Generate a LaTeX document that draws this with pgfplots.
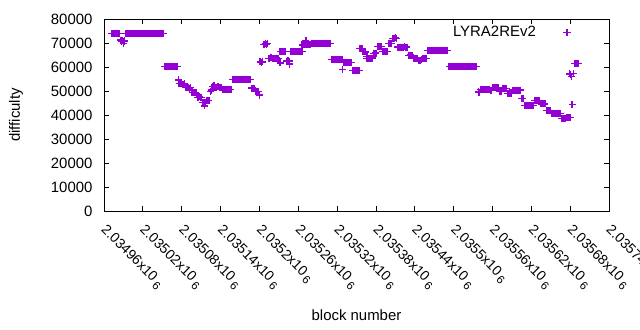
\documentclass[border=0pt]{standalone}
\usepackage{fontspec}
\setmainfont{Liberation Sans}
\usepackage{pgfplots}
\pgfplotsset{compat=1.18}
\usepackage{pgfplotstable}
\definecolor{gpviolet}{RGB}{148,0,211}
\newcommand{\gf}{\fontsize{15}{18}\selectfont}
\newcommand{\xf}{\fontsize{14}{17}\selectfont}
\newcommand{\tl}[1]{#1x10\,\raisebox{-0.45ex}{\fontsize{11.5}{14}\selectfont 6}}

\pgfplotstableread{
x y
12 74000
14 74000
16 74000
18 74000
20 74000
22 74000
24 74000
26 71200
27 70800
28 71000
30 69700
31 70600
32 71000
34 74000
36 74000
38 74000
40 74000
42 74000
44 74000
46 74000
48 74000
50 74000
52 74000
54 74000
56 74000
58 74000
60 74000
62 74000
64 74000
66 74000
68 74000
70 74000
72 74000
74 74000
76 74000
78 74000
80 74000
82 74000
84 74000
86 74000
88 74000
90 74000
92 74000
94 60300
96 60300
98 60300
100 60300
102 60300
104 60300
106 60300
108 60300
110 60300
112 60300
114 60300
115 54600
116 53000
118 53000
120 53200
122 52800
124 53000
126 51400
128 51400
130 51600
132 51200
134 51400
136 49300
138 49300
140 49500
142 49200
144 47400
146 47400
148 47600
150 47300
152 45100
154 45100
155 43800
156 45300
158 46000
160 46000
162 46000
164 49700
166 50400
168 52000
170 52500
172 51500
174 51500
176 51700
178 51400
180 51500
182 51500
184 50700
186 50700
188 50600
190 50700
192 50800
194 50700
196 50700
198 54900
200 54900
202 54900
204 54900
206 54900
208 54900
210 54900
212 54900
214 54900
216 54900
218 54900
220 54900
222 54900
224 54900
226 54900
228 51200
230 51200
232 51000
234 49700
236 49700
238 49800
240 48300
241 62100
243 62000
245 62100
247 69400
249 69600
251 69400
252 69800
254 63600
256 63600
258 63800
260 63500
262 63600
264 63600
266 63700
268 63500
270 63600
272 61700
272 66500
274 66400
276 66600
278 66500
280 66500
282 62500
284 62600
286 62500
287 61200
289 66400
291 66500
293 66500
295 66600
297 66400
299 66500
301 66500
303 66600
305 66500
307 66500
306 69200
308 69400
310 69200
312 71000
312 69300
314 69400
316 69200
318 69500
320 69900
322 69900
324 69900
326 69900
328 69900
330 69900
332 69900
334 69900
336 69900
338 69900
340 69900
342 69900
344 69900
346 69900
348 69900
350 69900
352 63200
354 63200
356 63200
358 63200
360 63200
362 63200
364 63200
366 63200
368 63200
368 59000
370 61800
372 61800
374 61800
376 61800
378 61800
380 61800
382 61800
384 58600
386 58600
388 58600
390 58600
392 58600
394 58600
395 67800
397 67800
399 67600
400 66400
402 66400
404 66300
406 64300
406 63600
408 63600
410 63600
412 63600
414 63700
416 65700
418 65700
420 65800
422 68500
424 68500
426 68400
428 68500
430 66500
432 66500
434 66400
436 66600
438 66500
440 69900
442 69900
444 69800
446 72000
448 72000
450 72100
452 71900
454 68300
456 68300
458 68200
460 68300
462 68300
464 68400
466 68200
468 68300
470 64900
472 64900
474 65000
476 64800
478 63600
480 63600
482 63700
484 63500
486 62900
488 62900
490 63000
492 63500
494 63500
496 63600
498 63500
500 67000
502 67000
504 67000
506 67000
508 67000
510 67000
512 67000
514 67000
516 67000
518 67000
520 67000
522 67000
524 67000
526 67000
528 67000
530 67000
533 60300
535 60300
537 60300
539 60300
541 60300
543 60300
545 60300
547 60300
549 60300
551 60300
553 60300
555 60300
557 60300
559 60300
561 60300
563 60300
565 60300
567 60300
569 60300
571 60300
573 60300
575 60300
578 49700
579 49300
581 50700
583 50700
585 50700
587 50700
589 50700
591 50700
593 50700
595 50700
597 50300
599 50300
601 51400
603 51400
605 51400
607 51400
609 51400
611 50000
613 50000
615 51100
617 51100
619 51100
621 51100
623 49000
625 49000
627 49000
629 49000
631 50400
633 50400
635 50400
637 50400
639 50400
641 50400
643 50400
645 47000
647 47000
649 43900
651 43900
653 43900
655 43900
657 43900
659 43900
661 43900
663 43900
665 46100
667 46100
669 46100
671 46100
673 46100
675 44600
677 44600
679 44600
681 44600
683 42000
685 42000
687 42000
689 42000
691 40700
693 40700
695 40700
697 40700
699 40700
701 40700
703 40700
705 40700
707 38500
709 38500
711 38500
713 38500
715 39000
717 39000
719 39000
721 39000
716 74300
719 57100
721 56800
722 55900
723 44400
725 57200
727 61500
729 61500
731 61600
733 61500
}\datatable

\begin{document}
\begin{tikzpicture}
\begin{axis}[
  at={(0,0)}, anchor=south west,
  scale only axis, width=505bp, height=192bp,
  xmin=0, xmax=780, ymin=0, ymax=80000,
  xtick={0,60,...,780},
  xticklabels={\tl{2.03496},\tl{2.03502},\tl{2.03508},\tl{2.03514},\tl{2.0352},\tl{2.03526},\tl{2.03532},\tl{2.03538},\tl{2.03544},\tl{2.0355},\tl{2.03556},\tl{2.03562},\tl{2.03568},\tl{2.03574}},
  ytick={0,10000,...,80000},
  scaled y ticks=false,
  /pgf/number format/assume math mode=true,
  yticklabel style={/pgf/number format/fixed, /pgf/number format/1000 sep={}, font=\gf, xshift=-8bp},
  xticklabel style={rotate=-45, anchor=north west, font=\xf, xshift=8bp, yshift=-3bp},
  tick align=inside, major tick length=5bp,
  every tick/.style={black, line width=0.8bp},
  axis line style={line width=0.9bp},
  xlabel={block number}, ylabel={difficulty},
  label style={font=\gf},
  x label style={at={(axis description cs:0.5,-0.54)}, anchor=center},
  y label style={at={(axis description cs:-0.174,0.5)}, anchor=center},
  legend plot pos=right,
  legend cell align=right,
  legend image code/.code={\path[draw=none] (0bp,0bp) -- (29bp,0bp); \draw[#1, only marks] plot coordinates {(29bp,0bp)};},
  legend style={draw=none, fill=none, font=\gf, inner sep=0pt,
    at={(rel axis cs:0.9238,0.93)}, anchor=east},
]
\addplot[only marks, mark=+, mark size=3.5bp, color=gpviolet,
  mark options={line width=1.3bp}]
  table[x=x, y=y] {\datatable};
\addlegendentry{LYRA2REv2}
\end{axis}
\pgfresetboundingbox
\path[use as bounding box] (-104bp,-119bp) rectangle (536bp,211bp);
\end{tikzpicture}
\end{document}
